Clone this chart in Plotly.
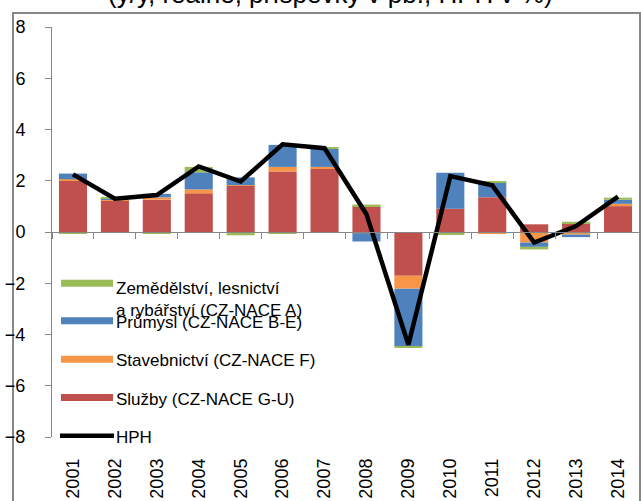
import plotly.graph_objects as go

years = ["2001", "2002", "2003", "2004", "2005", "2006", "2007",
         "2008", "2009", "2010", "2011", "2012", "2013", "2014"]
zemedelstvi = [-0.07, 0.07, -0.07, 0.21, -0.13, -0.07, 0.06, 0.06, -0.05, -0.05, 0.05, -0.10, 0.06, 0.08]
prumysl = [0.22, 0.02, 0.14, 0.67, 0.30, 0.86, 0.70, -0.32, -2.24, 1.40, 0.56, -0.17, -0.10, 0.16]
stavebnictvi = [0.05, 0.05, 0.09, 0.15, 0.03, 0.18, 0.07, -0.05, -0.50, -0.05, -0.08, -0.41, -0.10, 0.09]
sluzby = [2.01, 1.23, 1.26, 1.51, 1.80, 2.36, 2.47, 1.01, -1.71, 0.91, 1.36, 0.30, 0.34, 1.01]
hph = [2.25, 1.30, 1.44, 2.56, 1.97, 3.42, 3.27, 0.69, -4.40, 2.18, 1.82, -0.41, 0.23, 1.38]

names = {
    "A": "Zemědělství, lesnictví<br>a rybářství (CZ-NACE A)",
    "BE": "Průmysl (CZ-NACE B-E)",
    "F": "Stavebnictví (CZ-NACE F)",
    "GU": "Služby (CZ-NACE G-U)",
    "HPH": "HPH",
}
title_text = "(y/y, reálně, příspěvky v pb., HPH v %)"

C_GREEN = "#9BBB59"
C_BLUE = "#4F81BD"
C_ORANGE = "#F79646"
C_RED = "#C0504D"
GRAY = "#868686"
FONT = "Liberation Sans, Arial, sans-serif"

W, H = 641, 501
ML, MR, MT, MB = 52, 2, 27, 61
PW = W - ML - MR
PH = H - MT - MB


def px_x(p):
    return (p - ML) / PW


def px_y(p):
    return 1 + (MT - p) / PH


fig = go.Figure()

# stacked bars (order from zero outwards: services, construction, industry, agriculture)
for key, vals, col in [("GU", sluzby, C_RED), ("F", stavebnictvi, C_ORANGE),
                       ("BE", prumysl, C_BLUE), ("A", zemedelstvi, C_GREEN)]:
    fig.add_trace(go.Bar(x=years, y=vals, name=names[key], marker_color=col,
                         marker_line_width=0, showlegend=False))

fig.add_trace(go.Scatter(x=years, y=hph, name="HPH", mode="lines",
                         line=dict(color="black", width=4.5), showlegend=False))

# dummy trace for the boundary-tick axis at y=0
fig.add_trace(go.Scatter(x=years, y=[None] * len(years), xaxis="x2", yaxis="y",
                         showlegend=False, hoverinfo="skip"))

# legend entries (symbols drawn as wide keys below)
legend_items = [("A", C_GREEN, 7, "legend"), ("BE", C_BLUE, 7, "legend2"),
                ("F", C_ORANGE, 7, "legend2"), ("GU", C_RED, 7, "legend2"),
                ("HPH", "black", 4.5, "legend2")]
for key, col, w, lg in legend_items:
    fig.add_trace(go.Scatter(x=[None], y=[None], mode="lines", name=names[key],
                             line=dict(color="rgba(0,0,0,0)", width=w), legend=lg,
                             legendgroup=key))

sym_y = [285, 323, 361.6, 400.2, 438.8]
shapes = [dict(type="rect", xref="paper", yref="paper",
               x0=px_x(13), x1=px_x(640), y0=px_y(530), y1=px_y(13),
               line=dict(color="#878787", width=2), layer="below")]
for (key, col, w, lg), yy in zip(legend_items, sym_y):
    x0, x1 = (60, 114) if key == "HPH" else (61, 113)
    shapes.append(dict(type="line", xref="paper", yref="paper",
                       x0=px_x(x0), x1=px_x(x1), y0=px_y(yy), y1=px_y(yy),
                       line=dict(color=col, width=w), layer="above"))

fig.update_layout(
    width=W, height=H,
    margin=dict(l=ML, r=MR, t=MT, b=MB),
    barmode="relative", bargap=0.33,
    plot_bgcolor="white", paper_bgcolor="white",
    font=dict(family=FONT, size=18, color="black"),
    xaxis=dict(type="category", range=[-0.5, 13.5], showline=False, ticks="",
               tickangle=-90, showgrid=False, zeroline=False,
               ticklabelstandoff=17, tickfont=dict(size=18)),
    xaxis2=dict(type="category", range=[-0.5, 13.5], overlaying="x", anchor="free",
                position=0.5, showline=True, linecolor=GRAY, linewidth=1,
                ticks="outside", ticklen=6, tickcolor=GRAY, tickson="boundaries",
                showticklabels=False, showgrid=False, zeroline=False),
    yaxis=dict(range=[-8, 8], dtick=2, showline=True, linecolor=GRAY, linewidth=1,
               ticks="outside", ticklen=6, tickcolor=GRAY, showgrid=False,
               zeroline=False, ticklabelstandoff=16, tickfont=dict(size=18)),
    legend=dict(x=px_x(57), y=px_y(272), xanchor="left", yanchor="top",
                bgcolor="rgba(0,0,0,0)", itemwidth=49, valign="top",
                font=dict(size=17)),
    legend2=dict(x=px_x(57), y=px_y(305.5), xanchor="left", yanchor="top",
                 bgcolor="rgba(0,0,0,0)", itemwidth=49, tracegroupgap=13.5,
                 font=dict(size=17)),
    shapes=shapes,
    annotations=[dict(text=title_text, xref="paper", yref="paper",
                      x=px_x(330), y=px_y(11), xanchor="center", yanchor="bottom",
                      showarrow=False, font=dict(size=26))],
)

fig.write_html("out.html", config={"displayModeBar": False},
               post_script="document.body.style.margin='0';document.body.style.overflow='hidden';")
